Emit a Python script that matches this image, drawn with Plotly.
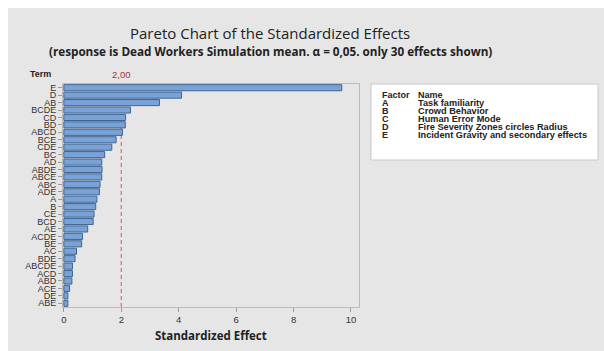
import plotly.graph_objects as go

# Terms ordered from largest to smallest standardized effect
terms = ["E", "D", "AB", "BCDE", "CD", "BD", "ABCD", "BCE", "CDE", "BC",
         "AD", "ABDE", "ABCE", "ABC", "ADE", "A", "B", "CE", "BCD", "AE",
         "ACDE", "BE", "AC", "BDE", "ABCDE", "ACD", "ABD", "ACE", "DE", "ABE"]
effects = [9.68, 4.10, 3.33, 2.32, 2.15, 2.14, 2.04, 1.82, 1.67, 1.42,
           1.32, 1.33, 1.32, 1.26, 1.24, 1.15, 1.11, 1.05, 1.02, 0.83,
           0.65, 0.62, 0.44, 0.39, 0.30, 0.30, 0.28, 0.20, 0.14, 0.14]
critical = 2.00
x_ticks = [0, 2, 4, 6, 8, 10]

factors = ["A", "B", "C", "D", "E"]
factor_names = ["Task familiarity", "Crowd Behavior", "Human Error Mode",
                "Fire Severity Zones circles Radius",
                "Incident Gravity and secondary effects"]

W, H = 604, 351
ML, MR, MT, MB = 63, 245, 84, 44
PW, PH = W - ML - MR, H - MT - MB


def px_x(p):
    return (p - ML) / PW


def px_y(p):
    return (H - MB - p) / PH


fig = go.Figure()
fig.add_trace(go.Bar(
    x=effects, y=terms, orientation="h",
    marker=dict(color="#78a3d8", line=dict(color="#44648c", width=1)),
    width=0.82, hoverinfo="x+y",
))

shapes = [
    # grey canvas
    dict(type="rect", xref="paper", yref="paper", layer="below",
         x0=px_x(8), x1=px_x(W + 2), y0=px_y(H + 2), y1=px_y(8),
         fillcolor="#e6e6e6", line=dict(width=0)),
    # critical value reference line, behind the bars
    dict(type="line", xref="x", yref="paper", x0=critical, x1=critical,
         y0=0, y1=1, layer="below",
         line=dict(color="#e86a6a", width=1.2, dash="4px,3px")),
    # factor table box
    dict(type="rect", xref="paper", yref="paper",
         x0=px_x(371), x1=px_x(598), y0=px_y(160), y1=px_y(84),
         fillcolor="white", line=dict(color="#c8c8c8", width=1)),
]

font = "Liberation Sans, Arial, sans-serif"
tfont = "Open Sans, sans-serif"
annotations = [
    dict(text="Pareto Chart of the Standardized Effects", xref="paper", yref="paper",
         x=px_x(270), y=px_y(33), showarrow=False, xanchor="center", yanchor="middle",
         font=dict(family=tfont, size=15, color="#222")),
    dict(text="<b>(response is Dead Workers Simulation mean. \u03b1 = 0,05. only 30 effects shown)</b>",
         xref="paper", yref="paper", x=px_x(270.5), y=px_y(51.5), showarrow=False,
         xanchor="center", yanchor="middle",
         font=dict(family=tfont, size=11.7, color="#222")),
    dict(text="<b>Term</b>", xref="paper", yref="paper", x=px_x(40), y=px_y(74),
         showarrow=False, xanchor="center", yanchor="middle",
         font=dict(family=font, size=9, color="#222")),
    dict(text="2,00", xref="x", yref="paper", x=critical, y=px_y(74),
         showarrow=False, xanchor="center", yanchor="middle",
         font=dict(family=font, size=9.5, color="#b03030")),
    dict(text="<b>Standardized Effect</b>", xref="paper", yref="paper",
         x=px_x(211), y=px_y(335.5), showarrow=False, xanchor="center", yanchor="middle",
         font=dict(family=tfont, size=11.5, color="#222")),
    dict(text="<b>Factor</b>", xref="paper", yref="paper", x=px_x(380), y=px_y(95),
         showarrow=False, xanchor="left", yanchor="middle",
         font=dict(family=font, size=9, color="#222")),
    dict(text="<b>Name</b>", xref="paper", yref="paper", x=px_x(416), y=px_y(95),
         showarrow=False, xanchor="left", yanchor="middle",
         font=dict(family=font, size=9, color="#222")),
]
for i, (f, n) in enumerate(zip(factors, factor_names)):
    yy = px_y(103 + 7.9 * i)
    annotations.append(dict(text=f"<b>{f}</b>", xref="paper", yref="paper", x=px_x(380), y=yy,
                            showarrow=False, xanchor="left", yanchor="middle",
                            font=dict(family=font, size=9, color="#222")))
    annotations.append(dict(text=f"<b>{n}</b>", xref="paper", yref="paper", x=px_x(416), y=yy,
                            showarrow=False, xanchor="left", yanchor="middle",
                            font=dict(family=font, size=9.2, color="#222")))

fig.update_layout(
    width=W, height=H,
    margin=dict(l=ML, r=MR, t=MT, b=MB, pad=0),
    paper_bgcolor="white", plot_bgcolor="white",
    showlegend=False, bargap=0.18,
    shapes=shapes, annotations=annotations,
    xaxis=dict(range=[-0.03, 10.28], tickvals=x_ticks, showgrid=False, zeroline=False,
               ticks="outside", ticklen=4, tickcolor="#999",
               tickfont=dict(family=font, size=9.5, color="#333"),
               showline=True, linecolor="#bbb", mirror=True),
    yaxis=dict(categoryorder="array", categoryarray=terms, autorange=False,
               range=[len(terms) - 0.5, -0.5], showgrid=False, zeroline=False,
               tickmode="array", tickvals=terms, ticktext=terms,
               ticks="outside", ticklen=4, tickcolor="#999",
               tickfont=dict(family="Liberation Sans Narrow, Arial Narrow, sans-serif",
                             size=9, color="#333"),
               showline=True, linecolor="#bbb", mirror=True),
)

fig.write_html("out.html")
